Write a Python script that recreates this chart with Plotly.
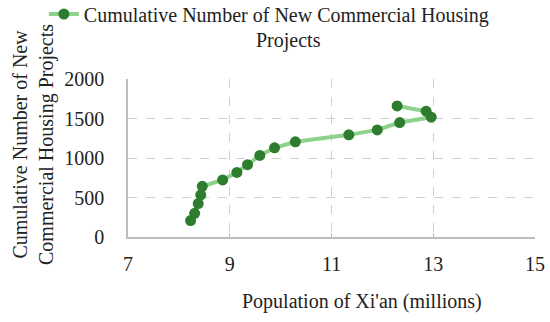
import plotly.graph_objects as go

population = [8.23, 8.31, 8.38, 8.43, 8.46, 8.86, 9.14, 9.35, 9.59, 9.88,
              10.29, 11.34, 11.90, 12.34, 12.96, 12.86, 12.29]
projects = [208, 300, 423, 532, 641, 722, 818, 915, 1032, 1129,
            1205, 1293, 1356, 1449, 1517, 1592, 1659]

FONT = "Liberation Serif"
TF = dict(family=FONT, size=20, color="#222")
W, H = 550, 322
l, r, t, b = 128, 15, 79, 85
pw, ph = W - l - r, H - t - b

fig = go.Figure()
fig.add_trace(go.Scatter(
    x=population, y=projects, mode="lines+markers",
    name="Cumulative Number of New Commercial Housing",
    line=dict(color="#8ED18A", width=4),
    marker=dict(color="#2E7D2E", size=11),
))
fig.update_layout(
    width=W, height=H,
    margin=dict(l=l, r=r, t=t, b=b, autoexpand=False),
    paper_bgcolor="white", plot_bgcolor="white",
    font=TF,
    showlegend=True,
    legend=dict(orientation="h", x=(52 - l) / pw - 0.02, y=(H - b - 14) / ph,
                xref="paper", yref="paper",
                xanchor="left", yanchor="middle", font=TF,
                bgcolor="rgba(0,0,0,0)"),
    xaxis=dict(range=[7, 15], tickvals=[7, 9, 11, 13, 15], showgrid=True,
               gridcolor="#D0D0D0", griddash="dash", gridwidth=1,
               showline=True, linecolor="#BDBDBD", linewidth=1.5,
               ticks="inside", ticklen=4, tickcolor="#BDBDBD",
               zeroline=False, ticklabelstandoff=8, automargin=False,
               tickfont=TF),
    yaxis=dict(range=[0, 2000], tickvals=[0, 500, 1000, 1500, 2000], showgrid=True,
               gridcolor="#D0D0D0", griddash="dash", gridwidth=1,
               showline=True, linecolor="#BDBDBD", linewidth=1.5,
               zeroline=False, ticklabelstandoff=18, automargin=False,
               tickfont=TF),
    annotations=[
        dict(text="Projects", x=288, y=40, showarrow=False, font=TF),
        dict(text="Population of Xi'an (millions)", x=362, y=301,
             showarrow=False, font=TF),
        dict(text="Cumulative Number of New<br>Commercial Housing Projects",
             x=33, y=145, textangle=-90, showarrow=False, font=TF),
    ],
)
# place annotations in pixel coordinates
anns = []
for a in fig.layout.annotations:
    a = a.to_plotly_json()
    px_, py_ = a["x"], a["y"]
    a["x"] = (px_ - l) / pw
    a["y"] = (H - b - py_) / ph
    a["xref"] = "paper"; a["yref"] = "paper"
    a["xanchor"] = "center"; a["yanchor"] = "middle"
    anns.append(a)
fig.layout.annotations = anns
fig.write_html("out.html", config={"displayModeBar": False},
               post_script="document.body.style.margin='0';")
